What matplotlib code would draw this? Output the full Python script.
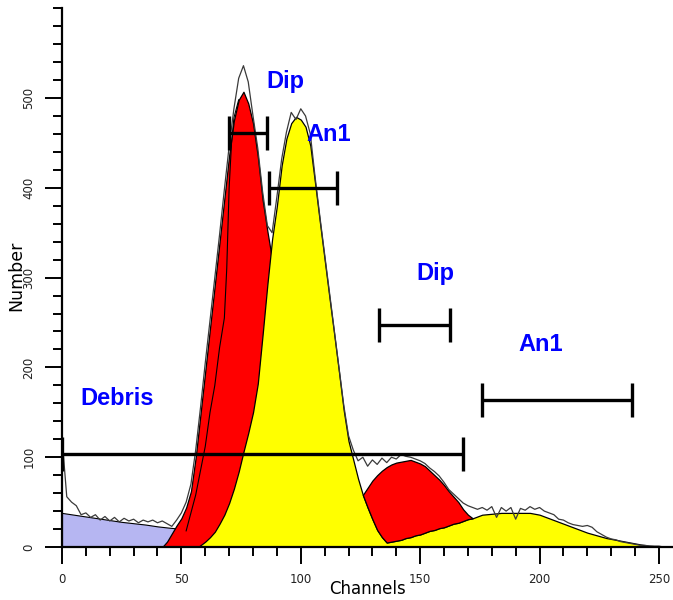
import matplotlib
matplotlib.use("Agg")
import matplotlib.pyplot as plt
from matplotlib.ticker import MultipleLocator

# raw histogram, every 2 channels (0..254)
raw_ch = list(range(0, 256, 2))
raw_val = [122, 56, 50, 46, 36, 38, 33, 36, 30, 34, 29, 33, 28, 32, 29, 31,
           27, 30, 28, 30, 27, 29, 26, 23, 30, 38, 50, 70, 108, 155, 205, 252,
           300, 348, 398, 446, 488, 522, 536, 518, 480, 444, 396, 358, 350, 390, 432, 462,
           484, 476, 488, 480, 460, 412, 368, 326, 284, 242, 200, 158, 124, 108, 96, 100,
           90, 97, 92, 99, 94, 100, 98, 103, 101, 100, 98, 96, 93, 88, 84, 79,
           72, 64, 59, 54, 49, 46, 44, 42, 44, 41, 45, 33, 44, 40, 44, 31,
           43, 41, 45, 42, 44, 40, 38, 36, 31, 30, 27, 25, 24, 23, 24, 22,
           17, 14, 11, 9, 8, 6, 5, 4, 3, 2, 2, 1, 1, 1, 0, 0]

# debris
deb_ch = [0, 5, 10, 15, 20, 25, 30, 35, 40, 45, 47, 48]
deb_val = [38, 36, 34, 32, 30, 28, 26.5, 25, 23, 21.5, 21, 20]

# diploid G1 envelope
dip_ch = [42, 44, 46, 48, 50, 52, 54, 56, 58, 60, 62, 64, 66, 68, 70, 72,
          74, 76, 78, 80, 82, 84, 86, 88, 90, 92, 94, 96, 98, 100, 102]
dip_val = [0, 6, 15, 24, 32, 44, 62, 100, 148, 196, 244, 292, 340, 388, 436, 475,
           498, 507, 494, 472, 435, 387, 352, 320, 280, 230, 170, 110, 60, 20, 0]

# inner line inside the diploid peak
inner_ch = [52, 54, 56, 58, 60, 62, 64, 66, 68, 69, 70, 71, 72, 74]
inner_val = [18, 38, 58, 85, 112, 150, 180, 222, 255, 310, 400, 450, 478, 498]

# aneuploid (G1 + G2)
an_ch = [57] + list(range(60, 173, 2)) + list(range(176, 257, 4))
an_val = [0, 6, 11, 17, 26, 36, 49, 65, 84, 106,
          127, 150, 182, 236, 292, 343, 380, 425, 455, 472,
          479, 476, 468, 447, 405, 362, 320, 278, 237, 195,
          152, 118, 97, 76, 58, 44, 31, 19, 11, 5,
          6, 7, 8, 10, 11, 13, 14, 16, 18, 19,
          21, 22, 24, 26, 27, 29, 31, 32,
          36, 37, 38, 38, 38, 38, 36, 32, 28, 24, 20, 16, 13, 10, 8, 6, 4, 2, 1, 0, 0]

# diploid G2 (sits on top of the aneuploid curve)
g2_ch = list(range(126, 173, 2))
g2_top = [58, 66, 74, 80, 85, 89, 92, 94, 95, 96, 97, 95, 93, 90, 85, 80, 75, 69, 62, 56, 50, 42, 36, 32]
g2_low = [58, 44, 31, 19, 11, 5, 6, 7, 8, 10, 11, 13, 14, 16, 18, 19, 21, 22, 24, 26, 27, 29, 31, 32]

# range markers: start, end, level
mk_lo = [0, 70, 86.7, 132.8, 175.8]
mk_hi = [168, 85.8, 115.2, 162.3, 238.6]
mk_y = [104, 461, 400, 247, 164]

# labels
lab_txt = ["Dip", "An1", "Dip", "An1", "Debris"]
lab_x = [93.4, 111.8, 156.2, 200.4, 23.2]
lab_y = [518, 459, 305, 225, 165]

fig = plt.figure(figsize=(6.73, 6.0), dpi=100)
ax = fig.add_axes([0.0921, 0.0883, 0.9083, 0.898])

ax.fill_between(deb_ch, 0, deb_val, facecolor="#b6b6f2", edgecolor="black", lw=0.8)
ax.fill_between(dip_ch, 0, dip_val, facecolor="#ff0000", edgecolor="black", lw=0.9)
ax.plot(inner_ch, inner_val, color="black", lw=0.8)
ax.fill_between(an_ch, 0, an_val, facecolor="#ffff00", edgecolor="black", lw=0.9)
ax.fill_between(g2_ch, g2_low, g2_top, facecolor="#ff0000", edgecolor="black", lw=0.9)
ax.plot(raw_ch, raw_val, color="#3a3a3a", lw=0.9)

for lo, hi, y in zip(mk_lo, mk_hi, mk_y):
    ax.plot([lo, hi], [y, y], color="black", lw=2.4, solid_capstyle="butt")
    ax.vlines([lo, hi], y - 19, y + 19, color="black", lw=2.4)

for t, x, y in zip(lab_txt, lab_x, lab_y):
    ax.text(x, y, t, color="#0000ff", fontsize=17, fontweight="bold",
            family="Liberation Sans", ha="center", va="center")

ax.set_xlim(0, 256)
ax.set_ylim(0, 600)
ax.set_xticks([0, 50, 100, 150, 200, 250])
ax.set_yticks([0, 100, 200, 300, 400, 500])
ax.xaxis.set_minor_locator(MultipleLocator(10))
ax.yaxis.set_minor_locator(MultipleLocator(20))
ax.tick_params(which="major", length=12, width=1.4, pad=7, labelsize=8.5, labelcolor="#222222")
ax.tick_params(which="minor", length=6.5, width=1.4)
for lbl in ax.get_yticklabels():
    lbl.set_rotation(90)
    lbl.set_va("center")

for s in ["top", "right"]:
    ax.spines[s].set_visible(False)
for s in ["left", "bottom"]:
    ax.spines[s].set_linewidth(1.6)

fig.text(16 / 673, 1 - 276 / 600, "Number", rotation=90, ha="center", va="center", fontsize=12.5)
fig.text(368 / 673, 1 - 589 / 600, "Channels", ha="center", va="center", fontsize=12)

fig.savefig("out.png", dpi=100)
